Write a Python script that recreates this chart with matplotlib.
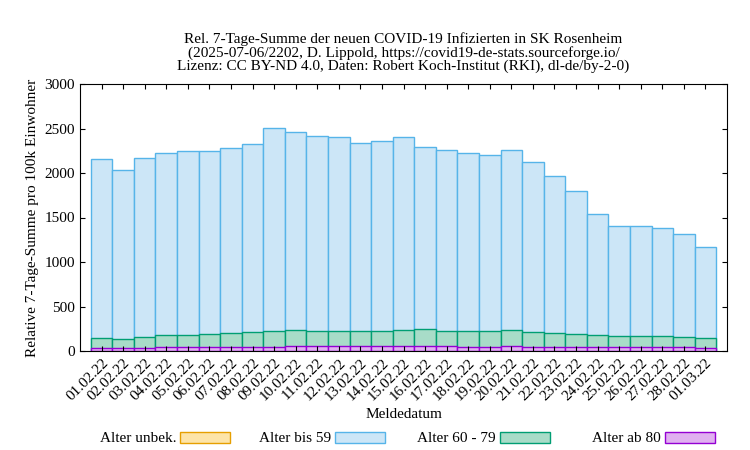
import matplotlib
matplotlib.use('Agg')
import matplotlib.pyplot as plt
from matplotlib.patches import Rectangle
import numpy as np

plt.rcParams['font.family'] = ['Liberation Serif', 'DejaVu Serif']

dates = ['01.02.22', '02.02.22', '03.02.22', '04.02.22', '05.02.22', '06.02.22', '07.02.22',
         '08.02.22', '09.02.22', '10.02.22', '11.02.22', '12.02.22', '13.02.22', '14.02.22',
         '15.02.22', '16.02.22', '17.02.22', '18.02.22', '19.02.22', '20.02.22', '21.02.22',
         '22.02.22', '23.02.22', '24.02.22', '25.02.22', '26.02.22', '27.02.22', '28.02.22',
         '01.03.22']
# kumulierte Werte (gestapelt)
top_59 = [2160, 2030, 2170, 2230, 2250, 2250, 2280, 2330, 2510, 2460, 2420, 2400, 2340, 2360,
          2410, 2290, 2260, 2220, 2200, 2260, 2120, 1970, 1800, 1540, 1410, 1410, 1380, 1320, 1170]
top_79 = [150, 140, 160, 180, 185, 190, 205, 215, 225, 240, 230, 225, 220, 225,
          235, 245, 225, 225, 225, 235, 215, 205, 195, 175, 170, 170, 165, 160, 150]
top_80 = [30, 30, 35, 40, 40, 40, 45, 45, 50, 55, 55, 55, 55, 55,
          55, 60, 55, 50, 50, 55, 50, 45, 40, 40, 40, 40, 40, 40, 35]

c_unb = ('#fde4a8', '#e69f00')
c_59 = ('#cce6f7', '#56b4e9')
c_79 = ('#a8dcc8', '#009e73')
c_80 = ('#e0b0f0', '#9400d3')

fig = plt.figure(figsize=(7.5, 4.5), dpi=100)
ax = fig.add_axes([80/750, 1-351/450, 647/750, 267/450])
x = np.arange(len(dates))
ax.bar(x, top_59, width=1.0, color=c_59[0], edgecolor=c_59[1], linewidth=1)
ax.bar(x, top_79, width=1.0, color=c_79[0], edgecolor=c_79[1], linewidth=1)
ax.bar(x, top_80, width=1.0, color=c_80[0], edgecolor=c_80[1], linewidth=1)
ax.set_xlim(-1, len(dates))
ax.set_ylim(0, 3000)
ax.set_yticks(range(0, 3001, 500))
ax.set_xticks(x)
ax.set_xticklabels(dates, rotation=45, ha='right', rotation_mode='anchor')
ax.tick_params(direction='in', labelsize=11, top=True, right=True)
ax.set_ylabel('Relative 7-Tage-Summe pro 100k Einwohner', fontsize=11)
ax.set_xlabel('Meldedatum', fontsize=11, labelpad=4)
ax.set_title('Rel. 7-Tage-Summe der neuen COVID-19 Infizierten in SK Rosenheim\n'
             '(2025-07-06/2202, D. Lippold, https://covid19-de-stats.sourceforge.io/\n'
             'Lizenz: CC BY-ND 4.0, Daten: Robert Koch-Institut (RKI), dl-de/by-2-0)',
             fontsize=11, linespacing=1.0, pad=10)

legend = [('Alter unbek.', c_unb, 180), ('Alter bis 59', c_59, 335),
          ('Alter 60 - 79', c_79, 500), ('Alter ab 80', c_80, 665)]
for lab, col, xr in legend:
    fig.text((xr - 4)/750, 1-438/450, lab, ha='right', va='center', fontsize=11)
    fig.patches.append(Rectangle((xr/750, 1-443/450), 50/750, 11/450, transform=fig.transFigure,
                                 facecolor=col[0], edgecolor=col[1], linewidth=1))

fig.savefig('out.png', dpi=100)
